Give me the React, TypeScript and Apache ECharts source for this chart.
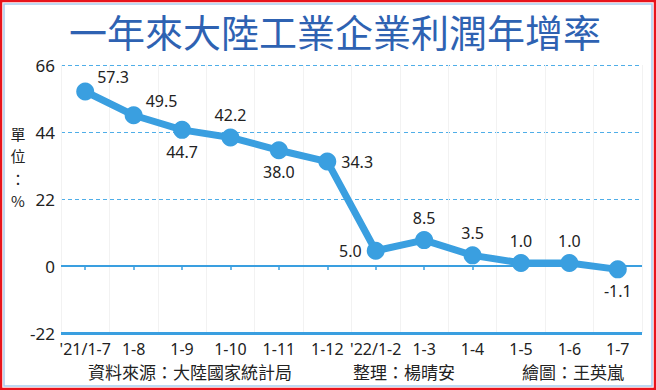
import React, { useEffect, useRef } from "react";
import * as echarts from "echarts";

const categories = ["'21/1-7", "1-8", "1-9", "1-10", "1-11", "1-12", "'22/1-2", "1-3", "1-4", "1-5", "1-6", "1-7"];
const values = [57.3, 49.5, 44.7, 42.2, 38.0, 34.3, 5.0, 8.5, 3.5, 1.0, 1.0, -1.1];
const labelPositions = ["tr", "tr", "bottom", "top", "bottom", "right", "left", "top", "top", "top", "top", "bottom"];
const yTicks = { min: -22, max: 66, interval: 22 };

const title = "一年來大陸工業企業利潤年增率";
const unitLabel = ["單", "位", "：", "%"];
const footer = ["資料來源：大陸國家統計局", "整理：楊晴安", "繪圖：王英嵐"];

export default function App() {
  const ref = useRef<HTMLDivElement>(null);
  useEffect(() => {
    document.body.style.margin = "0";
    const chart = echarts.init(ref.current!, null, { renderer: "svg" });
    const font = "'Noto Sans', 'Noto Sans CJK TC', sans-serif";
    const cjk = "'Noto Sans CJK TC', sans-serif";
    const data = values.map((v, i) => {
      const p = labelPositions[i];
      let label: any = {};
      if (p === "tr") label = { position: "right", offset: [0, -14], distance: 3 };
      else label = { position: p, distance: 5 };
      return { value: v, label };
    });
    chart.setOption({
      animation: false,
      backgroundColor: "#ffffff",
      grid: { left: 61, right: 14, top: 65, bottom: 57 },
      xAxis: {
        type: "category",
        data: categories,
        boundaryGap: true,
        axisLine: { show: false },
        axisTick: { show: true, alignWithLabel: true, length: 4, lineStyle: { color: "#3A9FE0", width: 1.5 } },
        axisLabel: { color: "#222", fontSize: 16, fontFamily: font, margin: 8, interval: 0 },
        splitLine: { show: true, lineStyle: { color: "#f2f2f2", width: 1 } },
      },
      yAxis: {
        type: "value",
        min: yTicks.min,
        max: yTicks.max,
        interval: yTicks.interval,
        axisLine: { show: false },
        axisTick: { show: false },
        axisLabel: { color: "#222", fontSize: 17, fontFamily: font, margin: 6 },
        splitLine: {
          show: true,
          lineStyle: { color: "#4FAEE8", width: 1, type: [4, 3] },
        },
      },
      series: [
        {
          type: "line",
          data,
          symbol: "circle",
          symbolSize: 18,
          lineStyle: { color: "#3A9FE0", width: 7 },
          itemStyle: { color: "#3A9FE0" },
          label: { show: true, color: "#222", fontSize: 16, fontFamily: font, formatter: (p: any) => p.value.toFixed(1) },
          markLine: {
            silent: true,
            symbol: "none",
            label: { show: false },
            data: [
              { yAxis: 0, lineStyle: { color: "#3A9FE0", width: 2, type: "solid" } },
              { yAxis: -22, lineStyle: { color: "#3A9FE0", width: 3, type: "solid" } },
            ],
          },
          z: 5,
        },
      ],
      graphic: [
        { type: "rect", shape: { x: 1, y: 1, width: 654, height: 388 }, style: { fill: "none", stroke: "#e8141c", lineWidth: 2.5 }, z: 100 },
        { type: "rect", shape: { x: 4, y: 4, width: 648, height: 382 }, style: { fill: "none", stroke: "#a9cdf0", lineWidth: 1.5 }, z: 100 },
        {
          type: "text",
          x: 335,
          y: 30,
          style: { text: title, fill: "#2E62B2", fontSize: 38, fontFamily: cjk, fontWeight: "normal", textAlign: "center", textVerticalAlign: "middle" },
        },
        ...unitLabel.map((t, i) => ({
          type: "text",
          x: 18,
          y: 133 + i * 22.5,
          style: { text: t, fill: "#222", fontSize: 15, lineHeight: 16, fontFamily: cjk, textAlign: "center", textVerticalAlign: "middle" },
        })),
        {
          type: "text", x: 88, y: 371,
          style: { text: footer[0], fill: "#222", fontSize: 17, fontFamily: cjk, textAlign: "left", textVerticalAlign: "middle" },
        },
        {
          type: "text", x: 353, y: 371,
          style: { text: footer[1], fill: "#222", fontSize: 17, fontFamily: cjk, textAlign: "left", textVerticalAlign: "middle" },
        },
        {
          type: "text", x: 522, y: 371,
          style: { text: footer[2], fill: "#222", fontSize: 17, fontFamily: cjk, textAlign: "left", textVerticalAlign: "middle" },
        },
      ],
    });
    return () => chart.dispose();
  }, []);
  return <div ref={ref} style={{ width: 656, height: 390 }} />;
}
